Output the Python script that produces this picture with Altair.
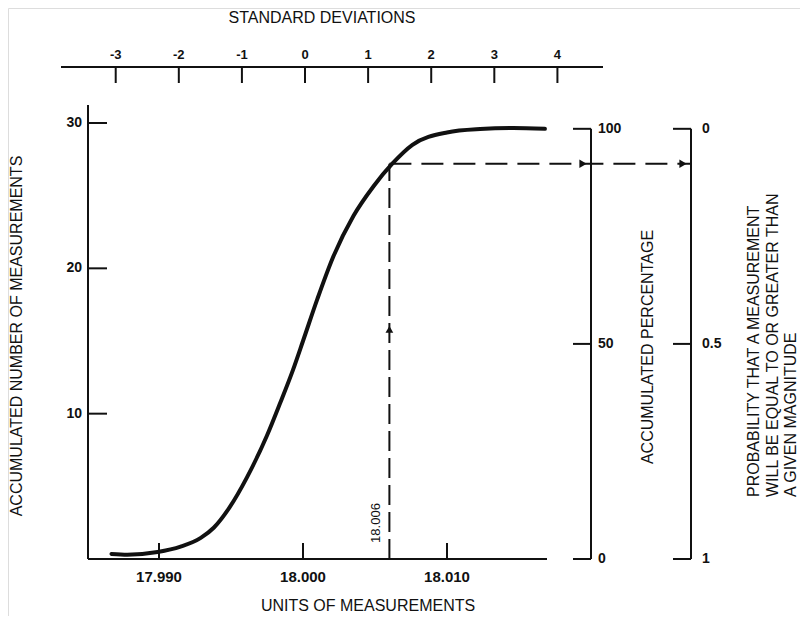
import altair as alt
import pandas as pd

# ---------------- data ----------------
curve_units = [17.9867, 17.9878, 17.9899, 17.9915, 17.9929, 17.9938, 17.9949, 17.9961,
               17.9975, 17.9984, 17.9993, 18.0000, 18.0010, 18.0021, 18.0035, 18.0049,
               18.0062, 18.0076, 18.0100, 18.0123, 18.0146, 18.0168]
curve_count = [0.35, 0.30, 0.48, 0.85, 1.45, 2.15, 3.55, 5.60,
               8.50, 10.70, 13.00, 15.00, 17.90, 20.80, 23.60, 25.65,
               27.20, 28.50, 29.35, 29.58, 29.65, 29.60]

x_ticks = [17.990, 18.000, 18.010]
x_tick_labels = ["17.990", "18.000", "18.010"]
count_ticks = [10, 20, 30]
count_labels = ["10", "20", "30"]
sd_ticks = [-3, -2, -1, 0, 1, 2, 3, 4]
sd_labels = ["-3", "-2", "-1", "0", "1", "2", "3", "4"]
pct_ticks = [0, 50, 100]
pct_labels = ["0", "50", "100"]
prob_ticks = [1.0, 0.5, 0.0]
prob_labels = ["1", "0.5", "0"]

MEAN = 18.00014       # measurement at 0 standard deviations
SIGMA = 0.004382      # one standard deviation
TOTAL = 29.6          # accumulated count that equals 100 %
marked_value = 18.006
marked_count = 27.2
arrow_count = 15.8

# ---------------- styling ----------------
TITLE_FONT = "Liberation Sans, Arial, sans-serif"
LABEL_FONT = "Liberation Sans, Arial, sans-serif"
INK = "#111111"

X = alt.Scale(domain=[17.979514, 18.034514], nice=False, zero=False)
Y = alt.Scale(domain=[-3.922, 37.913], nice=False, zero=False)

def xq(f):
    return alt.X(f, type="quantitative", scale=X, axis=None)

def yq(f):
    return alt.Y(f, type="quantitative", scale=Y, axis=None)

curve_df = pd.DataFrame({"u": curve_units, "c": curve_count})
xt_df = pd.DataFrame({"u": x_ticks, "lab": x_tick_labels})
ct_df = pd.DataFrame({"c": count_ticks, "lab": count_labels})
sd_df = pd.DataFrame({"sd": sd_ticks, "lab": sd_labels})
sd_df["u"] = MEAN + SIGMA * sd_df["sd"]
pct_df = pd.DataFrame({"p": pct_ticks, "lab": pct_labels})
pct_df["c"] = pct_df["p"] / 100 * TOTAL
prob_df = pd.DataFrame({"q": prob_ticks, "lab": prob_labels})
prob_df["c"] = (1 - prob_df["q"]) * TOTAL
zero_df = pd.DataFrame({"c": [0.0], "c2": [TOTAL]})
mark_df = pd.DataFrame({"u": [marked_value], "c": [marked_count], "c0": [0.0],
                        "ca": [arrow_count], "lab": ["18.006"]})

layers = []

# curve
layers.append(alt.Chart(curve_df).mark_line(color=INK, strokeWidth=4, interpolate="monotone",
                                            strokeCap="round").encode(x=xq("u"), y=yq("c")))

# bottom axis
layers.append(alt.Chart(zero_df).mark_rule(color=INK, strokeWidth=2).encode(
    x=alt.value(80), x2=alt.value(539), y=yq("c")))
layers.append(alt.Chart(xt_df).mark_rule(color=INK, strokeWidth=2).encode(
    x=xq("u"), y=alt.value(551), y2=alt.value(535)))
layers.append(alt.Chart(xt_df).mark_text(font=LABEL_FONT, fontSize=15, fontWeight="bold",
                                         color=INK, baseline="middle").encode(
    x=xq("u"), y=alt.value(569), text="lab:N"))

# left axis
layers.append(alt.Chart(zero_df).mark_rule(color=INK, strokeWidth=2).encode(
    x=alt.value(80), y=alt.value(97), y2=alt.value(551)))
layers.append(alt.Chart(ct_df).mark_rule(color=INK, strokeWidth=2).encode(
    x=alt.value(80), x2=alt.value(99), y=yq("c")))
layers.append(alt.Chart(ct_df).mark_text(font=LABEL_FONT, fontSize=14, fontWeight="bold",
                                         color=INK, align="right", baseline="middle").encode(
    x=alt.value(74), y=yq("c"), text="lab:N"))

# top axis (standard deviations)
layers.append(alt.Chart(zero_df).mark_rule(color=INK, strokeWidth=2).encode(
    x=alt.value(53), x2=alt.value(595), y=alt.value(59)))
layers.append(alt.Chart(sd_df).mark_rule(color=INK, strokeWidth=2).encode(
    x=xq("u"), y=alt.value(59), y2=alt.value(75)))
layers.append(alt.Chart(sd_df).mark_text(font=LABEL_FONT, fontSize=13, fontWeight="bold",
                                         color=INK, baseline="middle").encode(
    x=xq("u"), y=alt.value(47), text="lab:N"))

# accumulated percentage axis
layers.append(alt.Chart(zero_df).mark_rule(color=INK, strokeWidth=2).encode(
    x=alt.value(583), y=yq("c"), y2="c2:Q"))
layers.append(alt.Chart(pct_df).mark_rule(color=INK, strokeWidth=2).encode(
    x=alt.value(565), x2=alt.value(583), y=yq("c")))
layers.append(alt.Chart(pct_df).mark_text(font=LABEL_FONT, fontSize=14, fontWeight="bold",
                                          color=INK, align="left", baseline="middle").encode(
    x=alt.value(590), y=yq("c"), text="lab:N"))

# probability axis
layers.append(alt.Chart(zero_df).mark_rule(color=INK, strokeWidth=2).encode(
    x=alt.value(683), y=yq("c"), y2="c2:Q"))
layers.append(alt.Chart(prob_df).mark_rule(color=INK, strokeWidth=2).encode(
    x=alt.value(665), x2=alt.value(683), y=yq("c")))
layers.append(alt.Chart(prob_df).mark_text(font=LABEL_FONT, fontSize=14, fontWeight="bold",
                                           color=INK, align="left", baseline="middle").encode(
    x=alt.value(694), y=yq("c"), text="lab:N"))

# dashed guide lines and arrows
layers.append(alt.Chart(mark_df).mark_rule(color=INK, strokeWidth=2, strokeDash=[20, 7]).encode(
    x=xq("u"), y=yq("c0"), y2="c:Q"))
layers.append(alt.Chart(mark_df).mark_rule(color=INK, strokeWidth=2, strokeDash=[22, 10]).encode(
    x=xq("u"), x2=alt.value(683), y=yq("c")))
layers.append(alt.Chart(mark_df).mark_point(shape="triangle-up", filled=True, color=INK,
                                            size=60, opacity=1).encode(x=xq("u"), y=yq("ca")))
layers.append(alt.Chart(mark_df).mark_point(shape="triangle-right", filled=True, color=INK,
                                            size=70, opacity=1).encode(x=alt.value(575), y=yq("c")))
layers.append(alt.Chart(mark_df).mark_point(shape="triangle-right", filled=True, color=INK,
                                            size=70, opacity=1).encode(x=alt.value(675), y=yq("c")))
layers.append(alt.Chart(mark_df).mark_text(font=LABEL_FONT, fontSize=13, color=INK, angle=270,
                                           align="center", baseline="middle", dy=-13).encode(
    x=xq("u"), y=alt.value(515), text="lab:N"))

# titles
def title(text, x, y, angle=0, align="center"):
    return alt.Chart(zero_df).mark_text(font=TITLE_FONT, fontSize=16, color=INK, angle=angle,
                                        align=align, baseline="middle").encode(
        x=alt.value(x), y=alt.value(y), text=alt.value(text))

layers.append(title("STANDARD DEVIATIONS", 314, 10))
layers.append(title("UNITS OF MEASUREMENTS", 360, 598))
layers.append(title("ACCUMULATED NUMBER OF MEASUREMENTS", 9, 328, angle=270))
layers.append(title("ACCUMULATED PERCENTAGE", 640, 339, angle=270))
layers.append(title("PROBABILITY THAT A MEASUREMENT", 746, 489, angle=270, align="left"))
layers.append(title("WILL BE EQUAL TO OR GREATER THAN", 765, 489, angle=270, align="left"))
layers.append(title("A GIVEN MAGNITUDE", 783, 489, angle=270, align="left"))

chart = alt.layer(*layers).properties(
    width=792, height=608, padding=0,
    autosize=alt.AutoSizeParams(type="none"),
).configure_view(stroke=None).configure(background="white")

chart.save("out.html", embed_options={"renderer": "svg", "actions": False})
